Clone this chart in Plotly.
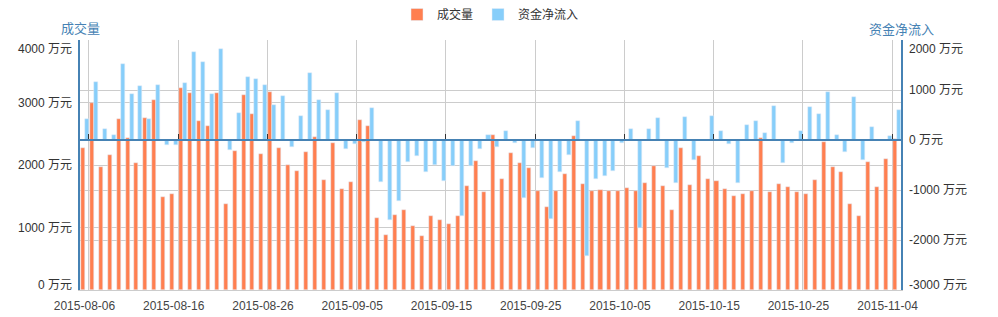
import pandas as pd
import plotly.graph_objects as go

# ---- data ----
dates = [d.strftime("%Y-%m-%d") for d in pd.date_range("2015-08-06", "2015-11-05", freq="D")]

volume = [2277, 2997, 1973, 2165, 2741, 2437, 2037, 2757, 3045, 1493,
          1541, 3237, 3157, 2709, 2629, 3157, 1381, 2229, 3125, 2821,
          2181, 3173, 2277, 2005, 1909, 2213, 2453, 1765, 2357, 1621,
          1733, 2725, 2629, 1157, 885, 1205, 1285, 1029, 869, 1189,
          1125, 1061, 1189, 1669, 2069, 1573, 2485, 1781, 2197, 2037,
          1957, 1589, 1333, 1589, 1861, 2469, 1701, 1589, 1605, 1589,
          1589, 1637, 1589, 1717, 1989, 1669, 1285, 2277, 1685, 2149,
          1781, 1749, 1621, 1509, 1541, 1589, 2437, 1573, 1701, 1653,
          1573, 1541, 1765, 2373, 1973, 1893, 1381, 1189, 2053, 1653,
          2101, 2421]

net_inflow = [413, 1153, 213, 93, 1513, 913, 1073, 413, 1093, -107,
              -107, 1133, 1753, 1553, 913, 1813, -207, 533, 1253, 1213,
              1093, 693, 873, -147, 473, 1333, 793, 593, 933, -187,
              -87, -40, 633, -847, -1607, -1227, -447, -327, -647, -507,
              -827, -527, -1527, -527, -187, 93, -147, 173, -67, -1167,
              -167, -767, -1587, -647, -307, 373, -2327, -787, -727, -627,
              -67, 213, -1753, 213, 433, -567, -867, 453, -407, 0,
              473, 173, -87, -867, 293, 373, 133, 673, -467, -67,
              173, 653, 513, 953, 93, -247, 853, -407, 253, 0,
              73, 593]

# grid / tick values
left_ticks = [0, 1000, 2000, 3000, 4000]
right_ticks = [-3000, -2000, -1000, 0, 1000, 2000]
# label anchors (end labels are nudged inward, as in the original chart)
left_label_pos = [80, 1000, 2000, 3000, 3860]
left_text = ["0 万元", "1000 万元", "2000 万元", "3000 万元", "4000 万元"]
right_label_pos = [-2900, -2000, -1000, 0, 1000, 1820]
right_text = ["-3000 万元", "-2000 万元", "-1000 万元", "0 万元", "1000 万元", "2000 万元"]
label_dates = dates[::10]
boundary_ticks = [i + 0.5 for i in range(0, len(dates), 10)]

ORANGE = "#FF7F50"
BLUE = "#87CEFA"
AXIS = "#4682B4"
GRID = "#cccccc"
FONT = "Liberation Sans, Noto Sans CJK SC, sans-serif"

fig = go.Figure()
fig.add_trace(go.Bar(name="成交量", x=dates, y=volume, marker_color=ORANGE,
                     offset=-0.4, width=0.45, xaxis="x", yaxis="y"))
fig.add_trace(go.Bar(name="资金净流入", x=dates, y=net_inflow, marker_color=BLUE,
                     offset=0.05, width=0.45, xaxis="x", yaxis="y2"))
# empty helper traces so the overlay axes get drawn
for xa, ya in (("x2", "y2"), ("x", "y3"), ("x", "y4")):
    fig.add_trace(go.Scatter(x=[], y=[], xaxis=xa, yaxis=ya, showlegend=False,
                             hoverinfo="skip"))

fig.update_layout(
    width=998, height=317,
    margin=dict(l=80, r=97, t=40, b=27, autoexpand=False),
    paper_bgcolor="white", plot_bgcolor="white",
    barmode="overlay", bargap=0,
    font=dict(family=FONT, size=12, color="#333"),
    showlegend=True,
    legend=dict(orientation="h", x=0.5, xanchor="center", y=1.16, yanchor="top",
                font=dict(size=12, color="#333"), itemwidth=30, traceorder="normal"),
    xaxis=dict(type="category", range=[-0.5, len(dates) - 0.5],
               tickmode="array", tickvals=label_dates, ticktext=label_dates,
               showgrid=False, ticks="", showline=True, linecolor=GRID, linewidth=1,
               tickfont=dict(size=12, color="#444"), ticklabelstandoff=5),
    xaxis2=dict(type="linear", range=[-0.5, len(dates) - 0.5], overlaying="x",
                anchor="free", position=0.6, side="bottom",
                tickmode="array", tickvals=boundary_ticks, showticklabels=False,
                ticks="inside", ticklen=5, tickcolor="#333", tickwidth=1,
                showgrid=True, gridcolor=GRID, gridwidth=1,
                showline=True, linecolor=AXIS, linewidth=2, zeroline=False),
    yaxis=dict(range=[0, 4000], tickmode="array", tickvals=left_ticks,
               showticklabels=False, showgrid=True, gridcolor=GRID, zeroline=False,
               showline=True, linecolor=AXIS, linewidth=2),
    yaxis2=dict(range=[-3000, 2000], overlaying="y", side="right",
                tickmode="array", tickvals=right_ticks, showticklabels=False,
                showgrid=True, gridcolor=GRID, zeroline=False,
                showline=True, linecolor=AXIS, linewidth=2),
    yaxis3=dict(range=[0, 4000], overlaying="y", side="left",
                tickmode="array", tickvals=left_label_pos, ticktext=left_text,
                showgrid=False, zeroline=False, showline=False,
                tickfont=dict(size=12, color="#333"), ticklabelstandoff=7),
    yaxis4=dict(range=[-3000, 2000], overlaying="y", side="right",
                tickmode="array", tickvals=right_label_pos, ticktext=right_text,
                showgrid=False, zeroline=False, showline=False,
                tickfont=dict(size=12, color="#333"), ticklabelstandoff=7),
    annotations=[
        dict(text="成交量", xref="paper", yref="paper", x=0, y=1.045,
             xanchor="center", yanchor="middle", showarrow=False,
             font=dict(size=13, color=AXIS)),
        dict(text="资金净流入", xref="paper", yref="paper", x=1, y=1.04,
             xanchor="center", yanchor="middle", showarrow=False,
             font=dict(size=13, color=AXIS)),
    ],
)

fig.write_html("out.html")
